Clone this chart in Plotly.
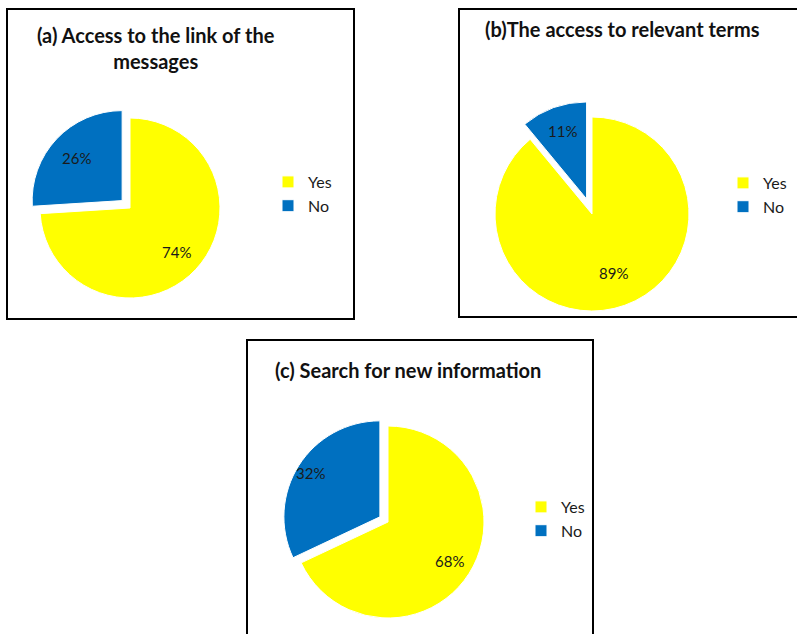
import math
import plotly.graph_objects as go

# Survey answers per question
labels = ["Yes", "No"]
access_link = [74, 26]
relevant_terms = [89, 11]
new_info = [68, 32]

titles = [
    "(a) Access to the link of the<br>messages",
    "(b)The access to relevant terms",
    "(c) Search for new information",
]

W, H = 797, 634
colors = ["#FFFF00", "#0070C0"]
FONT = "Lato"
TEXT = "#1a1a1a"


def px_x(v):
    return v / W


def px_y(v):
    return 1 - v / H


def pie_domain(cx, cy, r, pull):
    # plotly shrinks the radius by (1 + max pull) so the pulled slice fits
    half = r * (1 + pull)
    return dict(x=[px_x(cx - half), px_x(cx + half)],
                y=[px_y(cy + half), px_y(cy - half)])


def label_points(values, cx, cy, r, pulls, fracs):
    """Percent label anchor for each slice, along its mid-angle (clockwise from 12 o'clock)."""
    total = sum(values)
    cum = 0
    pts = []
    for v, p, f in zip(values, pulls, fracs):
        mid = 2 * math.pi * (cum + v / 2) / total
        cum += v
        rr = r * (p + f)
        pts.append((cx + rr * math.sin(mid), cy - rr * math.cos(mid), v / total))
    return pts


panels = [
    dict(values=access_link, cx=130, cy=208, r=90, pull=0.12, fracs=(0.71, 0.69),
         legend="legend", group="a"),
    dict(values=relevant_terms, cx=592, cy=214, r=97, pull=0.165, fracs=(0.65, 0.74),
         legend="legend2", group="b"),
    dict(values=new_info, cx=388, cy=522, r=96, pull=0.10, fracs=(0.76, 0.86),
         legend="legend3", group="c"),
]

fig = go.Figure()
for p in panels:
    pulls = [0, p["pull"]]
    fig.add_trace(go.Pie(
        labels=labels,
        values=p["values"],
        sort=False,
        direction="clockwise",
        rotation=0,
        pull=pulls,
        marker=dict(colors=colors, line=dict(color="white", width=1)),
        textinfo="none",
        domain=pie_domain(p["cx"], p["cy"], p["r"], p["pull"]),
        legend=p["legend"],
        legendgroup=p["group"],
        hoverinfo="label+percent",
    ))
    for x, y, share in label_points(p["values"], p["cx"], p["cy"], p["r"], pulls, p["fracs"]):
        fig.add_annotation(text=f"{share:.0%}", x=px_x(x), y=px_y(y),
                           xref="paper", yref="paper", showarrow=False,
                           xanchor="center", yanchor="middle",
                           font=dict(family=FONT, size=15, color=TEXT))

legend_style = dict(
    font=dict(family=FONT, size=16, color=TEXT),
    bgcolor="rgba(0,0,0,0)",
    xanchor="left", yanchor="top",
    itemclick=False, itemdoubleclick=False,
)

fig.update_layout(
    width=W, height=H,
    margin=dict(l=0, r=0, t=0, b=0),
    paper_bgcolor="white",
    plot_bgcolor="white",
    legend=dict(x=px_x(268), y=px_y(165), **legend_style),
    legend2=dict(x=px_x(723), y=px_y(166), **legend_style),
    legend3=dict(x=px_x(521), y=px_y(490), **legend_style),
)

# Panel frames
frames = [(7, 9, 354, 319), (459, 9, 800, 317), (247, 340, 593, 640)]
for x0, y0, x1, y1 in frames:
    fig.add_shape(type="rect", xref="paper", yref="paper",
                  x0=px_x(x0), x1=px_x(x1), y0=px_y(y1), y1=px_y(y0),
                  line=dict(color="black", width=2), fillcolor="rgba(0,0,0,0)")

# Panel titles
title_pos = [(156, 48), (622, 29), (408, 370)]
for t, (tx, ty) in zip(titles, title_pos):
    fig.add_annotation(text=f"<b>{t}</b>", x=px_x(tx), y=px_y(ty),
                       xref="paper", yref="paper", showarrow=False,
                       xanchor="center", yanchor="middle",
                       font=dict(family=FONT, size=20, color="#111111"))

fig.write_html("out.html")
